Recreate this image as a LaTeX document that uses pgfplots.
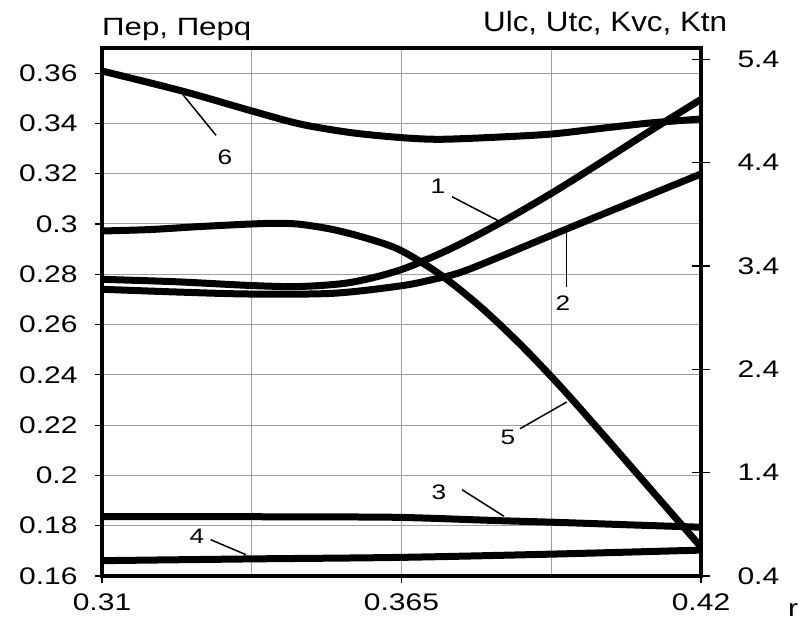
\documentclass[border=0pt]{standalone}
\usepackage{fontspec}
\setmainfont{Liberation Sans}[FakeStretch=1.25]
\newfontfamily\rfont{Liberation Sans}[FakeStretch=1.12]
\usepackage{pgfplots}
\pgfplotsset{compat=1.18}
\begin{document}
\begin{tikzpicture}
\useasboundingbox (-102pt,-48pt) rectangle (699pt,576pt);
\begin{axis}[
  at={(0pt,0pt)}, anchor=south west,
  scale only axis, width=599pt, height=528pt,
  xmin=0.31, xmax=0.42, ymin=0.16, ymax=0.37,
  xtick={0.31,0.365,0.42}, xticklabels={0.31,0.365,0.42},
  minor xtick={0.3375,0.3925},
  ytick={0.16,0.18,0.2,0.22,0.24,0.26,0.28,0.3,0.32,0.34,0.36},
  yticklabels={0.16,0.18,0.2,0.22,0.24,0.26,0.28,0.3,0.32,0.34,0.36},
  xtick pos=left, ytick pos=left,
  tick align=outside, major tick length=7pt, minor tick length=0pt,
  grid=both,
  major grid style={gray!75, line width=1pt},
  minor grid style={gray!75, line width=1pt},
  axis line style={line width=4pt},
  tick style={black, line width=1.2pt},
  ticklabel style={font=\fontsize{24}{28}\selectfont},
  yticklabel style={xshift=-14pt},
  xticklabel style={yshift=-7pt},
]
% curve 6
\addplot[black, line width=7pt, smooth] coordinates {
(0.31,0.36085) (0.32469,0.35290) (0.33755,0.34494) (0.34636,0.33977) (0.35554,0.33639)
(0.36472,0.33440) (0.37207,0.33369) (0.38309,0.33460) (0.39264,0.33580) (0.40145,0.33798)
(0.41064,0.34017) (0.42,0.34176)};
% curve 3
\addplot[black, line width=7pt, smooth] coordinates {
(0.31,0.1836) (0.33,0.1836) (0.35,0.1835) (0.365,0.1833) (0.3831,0.1820)
(0.3926,0.1814) (0.4075,0.1803) (0.42,0.1794)};
% curve 4
\addplot[black, line width=7pt, smooth] coordinates {
(0.31,0.1661) (0.3375,0.1668) (0.3647,0.1674) (0.3926,0.1687) (0.42,0.1703)};
\end{axis}
\begin{axis}[
  at={(0pt,0pt)}, anchor=south west,
  scale only axis, width=599pt, height=528pt,
  xmin=0.31, xmax=0.42, ymin=0.4, ymax=5.51,
  axis x line=none, axis y line*=right,
  ytick={0.4,1.4,2.4,3.4,4.4,5.4},
  yticklabels={0.4,1.4,2.4,3.4,4.4,5.4},
  tick align=center, major tick length=18pt,
  tick style={black, line width=1.2pt},
  axis line style={-, line width=4pt},
  ticklabel style={font=\fontsize{24}{28}\selectfont},
  yticklabel style={xshift=24pt},
]
% curve 5
\addplot[black, line width=7pt, smooth] coordinates {
(0.31,3.739) (0.31881,3.753) (0.32800,3.782) (0.33755,3.807) (0.34214,3.813)
(0.34636,3.804) (0.35242,3.753) (0.35866,3.668) (0.36472,3.555) (0.37207,3.319)
(0.37942,3.009) (0.38676,2.645) (0.39411,2.239) (0.40145,1.803) (0.40880,1.358)
(0.41615,0.913) (0.42,0.681)};
% curve 1
\addplot[black, line width=7pt, smooth] coordinates {
(0.31,3.271) (0.32341,3.248) (0.33755,3.211) (0.34636,3.202) (0.35554,3.240)
(0.36472,3.361) (0.37391,3.565) (0.38309,3.816) (0.39264,4.107) (0.40145,4.397)
(0.41064,4.707) (0.42,5.012)};
% curve 2
\addplot[black, line width=7pt, smooth] coordinates {
(0.31,3.175) (0.32341,3.149) (0.33718,3.129) (0.35242,3.136) (0.36472,3.207)
(0.37078,3.270) (0.37703,3.361) (0.39264,3.700) (0.40751,4.022) (0.42,4.291)};
\end{axis}
% axis titles
\node[anchor=base west, inner sep=0pt, font=\fontsize{25}{29}\selectfont] at (0pt,540pt) {Пер, Перq};
\node[anchor=base west, inner sep=0pt, font=\fontsize{28}{32}\selectfont\rfont] at (381pt,544.3pt) {Ulc, Utc, Kvc, Ktn};
\node[anchor=base west, inner sep=0pt, font=\fontsize{24}{28}\selectfont] at (686pt,-40.7pt) {r};
% curve labels and leaders
\begin{scope}[line width=1.5pt]
\draw (81pt,481.3pt) -- (114pt,440.7pt);
\draw (350pt,379.3pt) -- (400pt,353.3pt);
\draw (464.7pt,342.7pt) -- (464.7pt,289.3pt);
\draw (418pt,147.3pt) -- (464.7pt,174pt);
\draw (360pt,86.3pt) -- (402pt,59.7pt);
\draw (108.7pt,36.3pt) -- (144pt,21.3pt);
\end{scope}
\begin{scope}[every node/.style={inner sep=0pt, font=\fontsize{21}{24}\selectfont}]
\node at (123pt,418.7pt) {6};
\node at (336pt,389.3pt) {1};
\node at (461pt,273pt) {2};
\node at (406pt,139pt) {5};
\node at (337pt,84pt) {3};
\node at (95pt,39.3pt) {4};
\end{scope}
\end{tikzpicture}
\end{document}
